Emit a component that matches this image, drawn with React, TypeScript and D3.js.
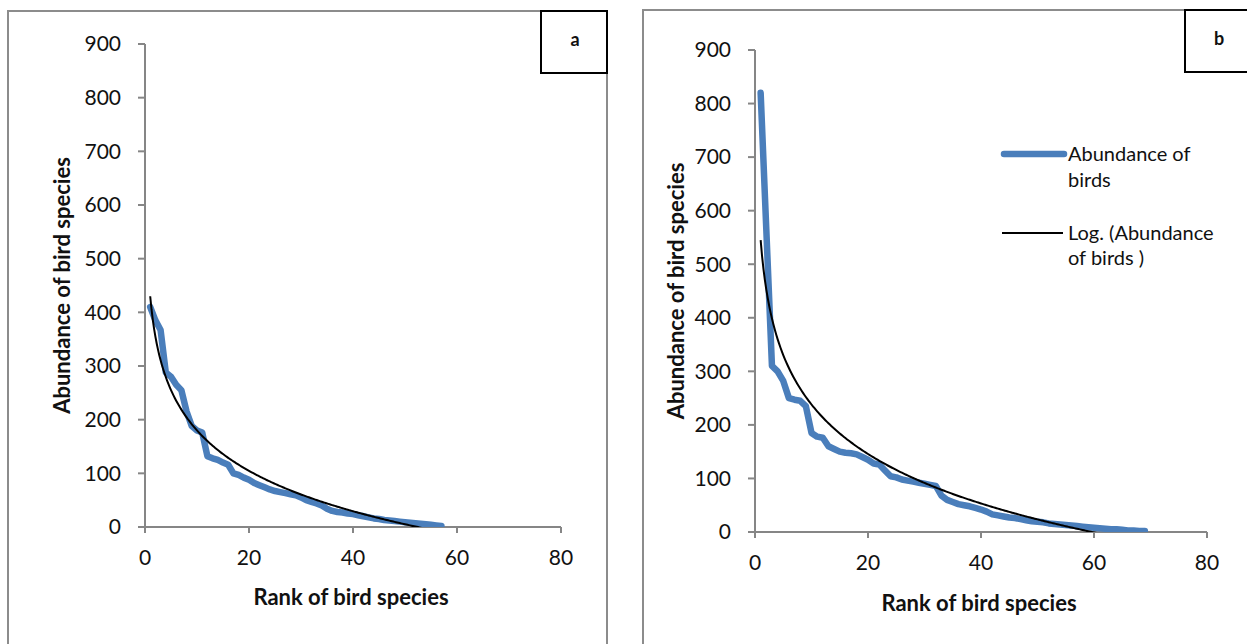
import * as d3 from 'd3';
import React from 'react';

// panel a: abundance by rank (ranks 1..57)
const abundanceA = [
  410, 385, 367, 288, 280, 265, 255, 215, 188, 180, 176, 132, 128, 125, 120,
  116, 100, 97, 92, 88, 82, 78, 74, 70, 67, 65, 63, 61, 59, 55, 50, 47, 44, 40,
  34, 30, 28, 27, 25, 24, 22, 20, 18, 16, 15, 13, 12, 11, 10, 9, 8, 7, 6, 5, 4,
  3, 2,
];

// panel b: abundance by rank (ranks 1..69)
const abundanceB = [
  820, 565, 310, 300, 282, 250, 247, 245, 235, 185, 178, 176, 160, 155, 150,
  148, 147, 145, 140, 135, 128, 126, 115, 104, 102, 98, 96, 94, 92, 90, 88, 86,
  68, 60, 56, 52, 50, 48, 45, 42, 38, 33, 31, 29, 27, 26, 24, 22, 20, 19, 18,
  16, 15, 14, 13, 12, 11, 10, 9, 8, 7, 6, 5, 5, 4, 3, 3, 2, 2,
];

// log trendline coefficients (y = intercept - slope * ln(rank))
const trendA = [430, 108.6];
const trendB = [545, 133.3];

const yTicks = [0, 100, 200, 300, 400, 500, 600, 700, 800, 900];
const xTicks = [0, 20, 40, 60, 80];

const FONT = 'Lato, "Open Sans", sans-serif';
const AXIS = '#868686';
const BLUE = '#4a7ebb';

type PanelProps = {
  id: string;
  data: number[];
  trend: number[];
  frame: { x: number; y: number; w: number; h: number };
  box: { x: number; y: number };
  left: number;
  right: number;
  top: number;
  bottom: number;
  yTitleX: number;
  xTitleY: number;
  legend?: boolean;
};

const Panel = ({ id, data, trend, frame, box, left, right, top, bottom, yTitleX, xTitleY, legend }: PanelProps) => {
  const x = d3.scaleLinear().domain([0, 80]).range([left, right]);
  const y = d3.scaleLinear().domain([0, 900]).range([bottom, top]);

  const pts = data.map((v, i) => ({ r: i + 1, v }));
  const line = d3
    .line<{ r: number; v: number }>()
    .x((d) => x(d.r))
    .y((d) => y(d.v));

  const trendPts = d3
    .range(1, data.length + 0.01, 0.25)
    .map((r) => ({ r, v: trend[0] - trend[1] * Math.log(r) }));

  return (
    <g>
      <rect x={frame.x} y={frame.y} width={frame.w} height={frame.h} fill="#fff" stroke="#8c8c8c" strokeWidth={2} />
      <clipPath id={`clip${id}`}>
        <rect x={left - 10} y={top - 20} width={right - left + 30} height={bottom - top + 20} />
      </clipPath>

      {/* axes */}
      <line x1={left} x2={left} y1={top} y2={bottom} stroke={AXIS} strokeWidth={2} />
      <line x1={left} x2={right} y1={bottom} y2={bottom} stroke={AXIS} strokeWidth={2} />
      {yTicks.map((t) => (
        <g key={t}>
          <line x1={left - 7} x2={left} y1={y(t)} y2={y(t)} stroke={AXIS} strokeWidth={2} />
          <text x={left - 24} y={y(t)} dy="0.35em" textAnchor="end" fontSize={21} fontFamily={FONT} fill="#111">
            {t}
          </text>
        </g>
      ))}
      {xTicks.map((t) => (
        <g key={t}>
          <line x1={x(t)} x2={x(t)} y1={bottom} y2={bottom + 6} stroke={AXIS} strokeWidth={2} />
          <text x={x(t)} y={bottom + 31} dy="0.35em" textAnchor="middle" fontSize={21} fontFamily={FONT} fill="#111">
            {t}
          </text>
        </g>
      ))}

      <g clipPath={`url(#clip${id})`}>
        <path d={line(pts) || ''} fill="none" stroke={BLUE} strokeWidth={6.5} strokeLinejoin="round" strokeLinecap="round" />
        <path d={line(trendPts) || ''} fill="none" stroke="#000" strokeWidth={2} />
      </g>

      <text
        transform={`translate(${yTitleX},${(top + bottom) / 2}) rotate(-90)`}
        textAnchor="middle"
        dy="0.35em"
        fontSize={22}
        fontWeight="bold"
        fontFamily={FONT}
        fill="#111"
      >
        Abundance of bird species
      </text>
      <text x={(left + right) / 2 - 2} y={xTitleY} dy="0.35em" textAnchor="middle" fontSize={22} fontWeight="bold" fontFamily={FONT} fill="#111">
        Rank of bird species
      </text>

      <rect x={box.x} y={box.y} width={66} height={62} fill="#fff" stroke="#000" strokeWidth={2} />
      <text x={box.x + 34} y={box.y + 29} dy="0.35em" textAnchor="middle" fontSize={18} fontWeight="bold" fontFamily={FONT} fill="#111">
        {id}
      </text>

      {legend && (
        <g fontFamily={FONT} fontSize={20} fill="#111">
          <line x1={1004} x2={1064} y1={154} y2={154} stroke={BLUE} strokeWidth={6.5} strokeLinecap="round" />
          <text x={1068} y={154} dy="0.35em">Abundance of</text>
          <text x={1068} y={180} dy="0.35em">birds</text>
          <line x1={1002} x2={1063} y1={233} y2={233} stroke="#000" strokeWidth={2} />
          <text x={1068} y={233} dy="0.35em">Log. (Abundance</text>
          <text x={1068} y={258} dy="0.35em">of birds )</text>
        </g>
      )}
    </g>
  );
};

export default function App() {
  return (
    <svg width={1247} height={644} style={{ position: 'absolute', left: 0, top: 0, background: '#fff' }}>
      <Panel
        id="a"
        data={abundanceA}
        trend={trendA}
        frame={{ x: 8, y: 11, w: 599, h: 660 }}
        box={{ x: 541, y: 11 }}
        left={145}
        right={561}
        top={44}
        bottom={527}
        yTitleX={62}
        xTitleY={597}
      />
      <Panel
        id="b"
        data={abundanceB}
        trend={trendB}
        frame={{ x: 643, y: 10, w: 640, h: 660 }}
        box={{ x: 1185, y: 10 }}
        left={755}
        right={1207}
        top={50}
        bottom={532}
        yTitleX={676}
        xTitleY={603}
        legend
      />
    </svg>
  );
}
